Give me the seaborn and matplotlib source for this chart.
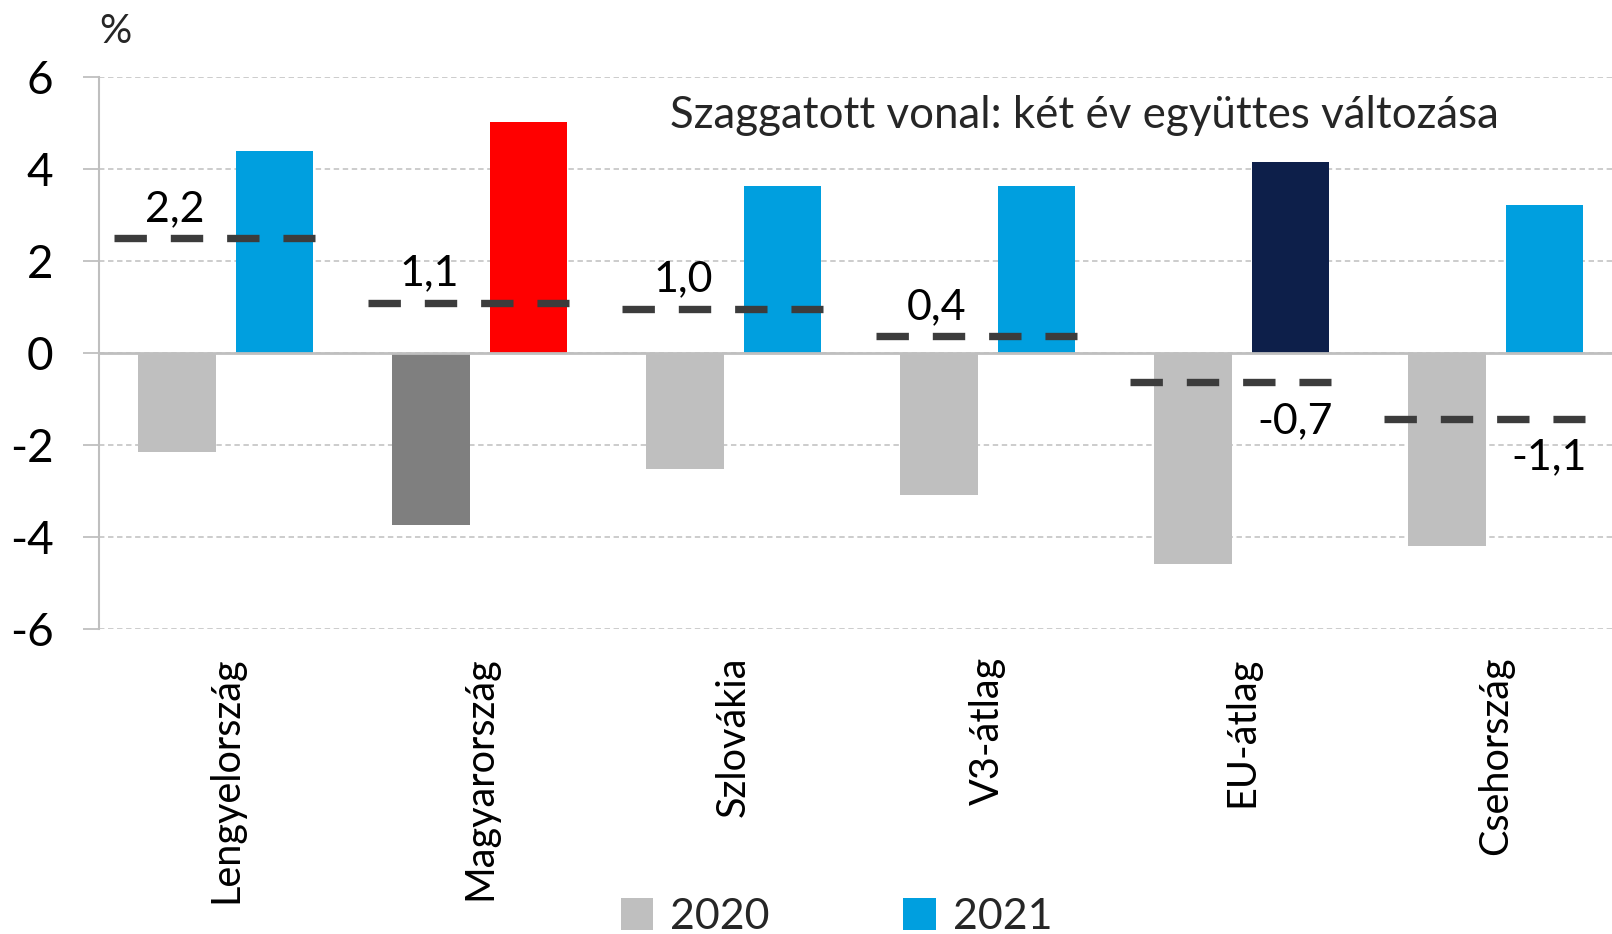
import numpy as np
import pandas as pd
import matplotlib
matplotlib.use("Agg")
import matplotlib.pyplot as plt
from matplotlib.patches import Patch
import seaborn as sns

categories = ["Lengyelország", "Magyarország", "Szlovákia", "V3-átlag", "EU-átlag", "Csehország"]
values_2020 = [-2.15, -3.75, -2.52, -3.08, -4.58, -4.20]
values_2021 = [4.40, 5.03, 3.64, 3.62, 4.15, 3.22]
combined_line = [2.50, 1.09, 0.96, 0.36, -0.63, -1.43]
combined_labels = ["2,2", "1,1", "1,0", "0,4", "-0,7", "-1,1"]
years = ["2020", "2021"]
y_ticks = [-6, -4, -2, 0, 2, 4, 6]
note_text = "Szaggatott vonal: két év együttes változása"
unit_text = "%"

sns.set_theme(style="white")
plt.rcParams["font.family"] = ["Lato", "DejaVu Sans"]
plt.rcParams["axes.unicode_minus"] = False

df = pd.DataFrame({
    "orszag": categories * 2,
    "ev": [years[0]] * len(categories) + [years[1]] * len(categories),
    "ertek": values_2020 + values_2021,
})

c2020 = "#bfbfbf"
c2021 = "#009fdf"
fig = plt.figure(figsize=(16.12, 9.34), dpi=100)
ax = fig.add_axes([0.0612, 0.3266, 1 - 0.0612, 0.9176 - 0.3266])

sns.barplot(data=df, x="orszag", y="ertek", hue="ev", order=categories,
            hue_order=years, palette=[c2020, c2021], width=0.768, gap=0.208,
            ax=ax, legend=False, saturation=1, errorbar=None)

special = {("Magyarország", 0): "#7f7f7f", ("Magyarország", 1): "#ff0000",
           ("EU-átlag", 1): "#0d1f4a"}
for hi, cont in enumerate(ax.containers):
    for ci, bar in enumerate(cont):
        col = special.get((categories[ci], hi))
        if col:
            bar.set_facecolor(col)
        bar.set_edgecolor("none")

# dashed combined-change lines
span = 0.79
for i, (v, lab) in enumerate(zip(combined_line, combined_labels)):
    xc = i - 0.045
    ax.plot([xc - span / 2, xc + span / 2], [v, v], color="#3c3c3c", lw=5.3,
            linestyle=(0, (4.4, 3.25)), solid_capstyle="butt", dash_capstyle="butt",
            zorder=5)
    if v >= 0:
        ax.annotate(lab, (i - 0.20, v), xytext=(0, 21), textcoords="offset points",
                    ha="center", va="center", fontsize=31, color="black", zorder=6)
    else:
        ax.annotate(lab, (i + 0.21, v), xytext=(0, -28), textcoords="offset points",
                    ha="center", va="center", fontsize=31, color="black", zorder=6)

ax.set_ylim(-6, 6)
ax.set_xlim(-0.5, 5.458)
ax.set_yticks(y_ticks)
ax.set_yticklabels([str(t) for t in y_ticks])
ax.yaxis.grid(True, color="#c8c8c8", linestyle=(0, (3, 2)), linewidth=1.3)
ax.set_axisbelow(True)
ax.axhline(0, color="#bfbfbf", lw=2, zorder=3)
for s in ["top", "right", "bottom"]:
    ax.spines[s].set_visible(False)
ax.spines["left"].set_color("#bfbfbf")
ax.spines["left"].set_linewidth(1.5)
ax.tick_params(axis="y", which="major", length=11.5, width=1.3, color="#bfbfbf",
               direction="out", left=True, labelsize=33, pad=21, labelcolor="black")
ax.tick_params(axis="x", length=0, labelsize=28.5, pad=20, labelcolor="black")
ax.set_xticks(range(len(categories)))
ax.set_xticklabels(categories, rotation=90, va="top", ha="center")
ax.set_xlabel("")
ax.set_ylabel("")

fig.text(0.0713, 0.966, unit_text, fontsize=29, ha="center", va="center")
fig.text(0.673, 0.876, note_text, fontsize=31.6, ha="center", va="center")

handles = [Patch(facecolor=c2020, edgecolor="none", label=years[0]),
           Patch(facecolor=c2021, edgecolor="none", label=years[1])]
fig.legend(handles=handles, loc="center", bbox_to_anchor=(0.519, 0.018), ncol=2,
           frameon=False, fontsize=31, handlelength=0.75, handleheight=0.75,
           handletextpad=0.4, columnspacing=3.1, borderpad=0)

fig.savefig("out.png", dpi=100)
